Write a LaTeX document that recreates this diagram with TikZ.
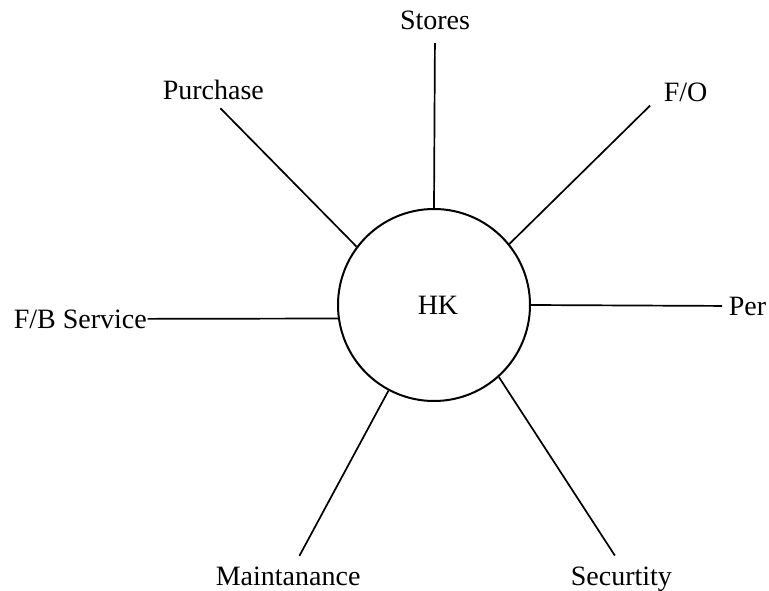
\documentclass[tikz,border=0pt]{standalone}
\usepackage{fontspec}
\setmainfont{Liberation Serif}
\usepackage{tikz}
\usetikzlibrary{calc}

\begin{document}
\begin{tikzpicture}[x=1pt, y=-1pt, line width=1.7pt,
      every node/.style={font=\fontsize{28}{32}\selectfont, inner sep=0pt},
      dept/.style={anchor=base west},
      hub/.style={draw, circle, line width=2pt, minimum size=192pt}]
    \useasboundingbox (0,0) rectangle (769,591);
    % centre unit
    \node[hub] (hk) at (434,305) {\hspace{8pt}HK};
    % departments round it
    \node[anchor=base] (sto) at (435,30) {Stores};
    \node[dept] (pur) at (162,100) {Purchase};
    \node[dept] (fo)  at (663,102) {F/O};
    \node[dept] (per) at (728,315) {Per};
    \node[dept] (fb)  at (13,328)  {F/B Service};
    \node[dept] (mai) at (215,585) {Maintanance};
    \node[dept] (sec) at (570,585) {Securtity};
    \draw[shorten <=12pt] (sto.south) -- (hk.90);
    \draw[shorten <=10pt] (pur.south) -- (hk.143);
    \draw[shorten <=18pt] (fo.west) -- (hk.39);
    \draw[shorten <=6pt]  (per.west) -- (hk.0);
    \draw (fb.east) -- (hk.188);
    \draw[shorten <=11pt] ([xshift=6pt]mai.north) -- (hk.242);
    \draw[shorten <=12pt] (sec.north) -- (hk.312);
\end{tikzpicture}
\end{document}
